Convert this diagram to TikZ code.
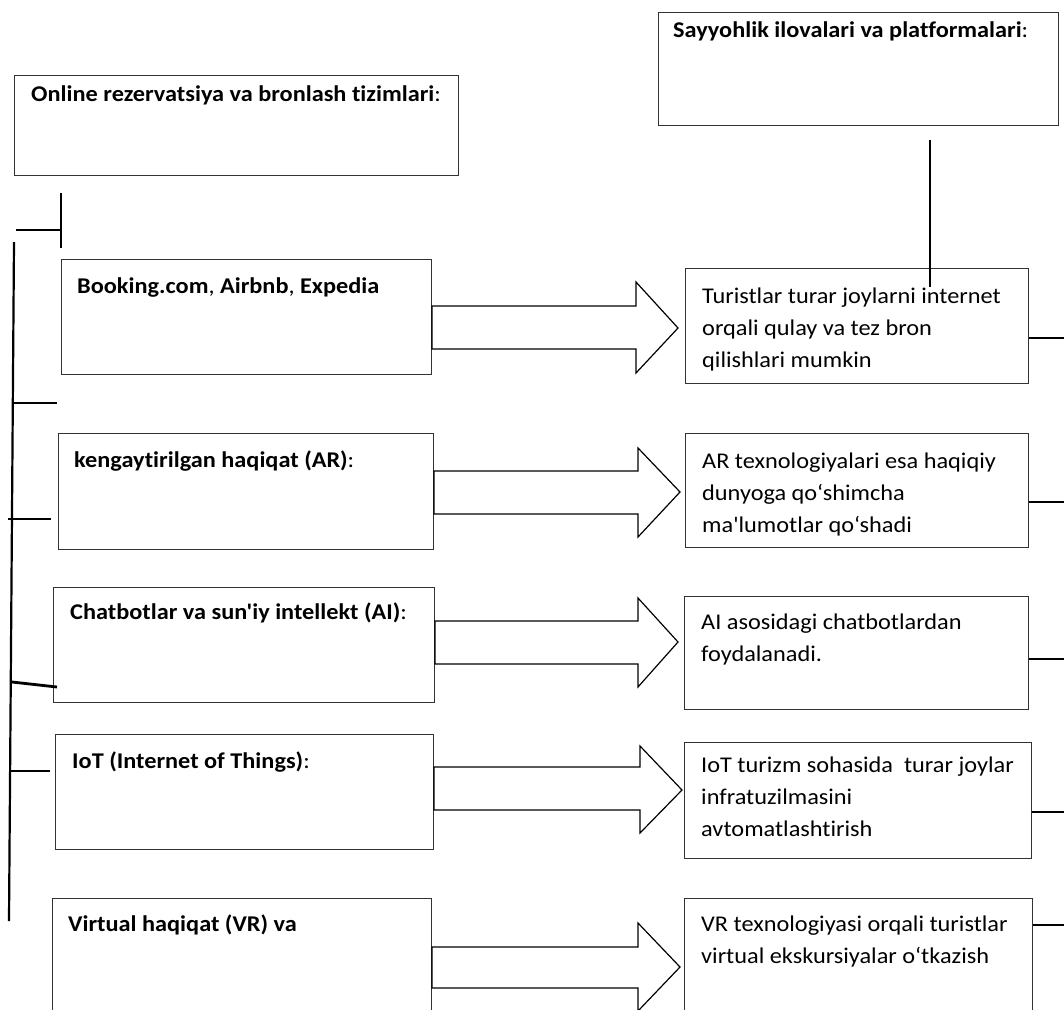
\documentclass[tikz,border=0pt]{standalone}
\usepackage{fontspec}
\setmainfont[Ligatures={NoCommon,TeXOff}, FakeStretch=1.08]{Carlito}
\begin{document}
\begin{tikzpicture}[x=1pt,y=-1pt,
  box/.style={draw=black!80, line width=0.9pt, anchor=north west, inner sep=0pt, fill=none},
  lbl/.style={anchor=base west, inner sep=0pt, font=\fontsize{22.5}{26}\selectfont},
  txt/.style={anchor=base west, inner sep=0pt, align=left, font=\fontsize{22.5}{32}\selectfont},
  blk/.style={draw=black, line width=1.2pt, line join=miter},
  tick/.style={draw=black, line width=2.8pt},
  vline/.style={draw=black, line width=2.2pt},
  ]
\useasboundingbox (0,0) rectangle (1064,1009);
\clip (0,0) rectangle (1064,1009);

% top boxes
\node[box, minimum width=444pt, minimum height=100pt] (online) at (14,75) {};
\node[lbl] (onlinet) at (31,101) {\textbf{Online rezervatsiya va bronlash tizimlari}:};
\node[box, minimum width=400pt, minimum height=113pt] (sayy) at (658,12) {};
\node[lbl] (sayyt) at (673,37) {\textbf{Sayyohlik ilovalari va platformalari}:};

% left boxes
\node[box, minimum width=370pt, minimum height=115pt] (l1) at (61,259) {};
\node[lbl] (l1t) at (77,293) {\textbf{Booking.com}, \textbf{Airbnb}, \textbf{Expedia}};
\node[box, minimum width=375pt, minimum height=116pt] (l2) at (58,433) {};
\node[lbl] (l2t) at (74,467) {\textbf{kengaytirilgan haqiqat (AR)}:};
\node[box, minimum width=381pt, minimum height=115pt] (l3) at (53,587) {};
\node[lbl] (l3t) at (70,619) {\textbf{Chatbotlar va sun'iy intellekt (AI)}:};
\node[box, minimum width=378pt, minimum height=115pt] (l4) at (55,734) {};
\node[lbl] (l4t) at (72,768) {\textbf{IoT (Internet of Things)}:};
\node[box, minimum width=379pt, minimum height=140pt] (l5) at (52,898) {};
\node[lbl] (l5t) at (68,931) {\textbf{Virtual haqiqat (VR) va}};

% right boxes (base anchor = baseline of last line)
\node[box, minimum width=343pt, minimum height=115pt] (r1) at (685,268) {};
\node[txt] (r1t) at (702,367) {Turistlar turar joylarni internet\\orqali qulay va tez bron\\qilishlari mumkin};
\node[box, minimum width=343pt, minimum height=114pt] (r2) at (685,433) {};
\node[txt] (r2t) at (702,532) {AR texnologiyalari esa haqiqiy\\dunyoga qo‘shimcha\\ma'lumotlar qo‘shadi};
\node[box, minimum width=344pt, minimum height=113pt] (r3) at (684,596) {};
\node[txt] (r3t) at (701,661) {AI asosidagi chatbotlardan\\foydalanadi.};
\node[box, minimum width=347pt, minimum height=116pt] (r4) at (684,742) {};
\node[txt] (r4t) at (701,836) {IoT turizm sohasida\ \ turar joylar\\infratuzilmasini\\avtomatlashtirish};
\node[box, minimum width=348pt, minimum height=140pt] (r5) at (684,898) {};
\node[txt] (r5t) at (701,963) {VR texnologiyasi orqali turistlar\\virtual ekskursiyalar o‘tkazish};

% block arrows
\draw[blk] (l1.east |- 0,306) -- (636,306) -- (636,282) -- (678,328) -- (636,373) -- (636,349) -- (l1.east |- 0,349) -- cycle;
\draw[blk] (l2.east |- 0,471) -- (638,471) -- (638,448) -- (680,492) -- (638,537) -- (638,514) -- (l2.east |- 0,514) -- cycle;
\draw[blk] (l3.east |- 0,621) -- (638,621) -- (638,598) -- (678,642) -- (638,687) -- (638,664) -- (l3.east |- 0,664) -- cycle;
\draw[blk] (l4.east |- 0,767) -- (640,767) -- (640,746) -- (682,790) -- (640,833) -- (640,810) -- (l4.east |- 0,810) -- cycle;
\draw[blk] (l5.east |- 0,947) -- (638,947) -- (638,923) -- (680,967) -- (638,1011) -- (638,988) -- (l5.east |- 0,988) -- cycle;

% top-left T and trunk
\coordinate (tA) at (61,193);
\coordinate (tB) at (61,248);
\coordinate (tC) at (16,230);
\draw[tick] (tA) -- (tB);
\draw[tick] (tC) -- (tA |- tC);
\coordinate (trTop) at (14,242);
\coordinate (trBot) at (9,921);
\draw[vline] (trTop) -- (trBot);

% left ticks
\coordinate (k1a) at (14,403); \coordinate (k1b) at (57,403);
\coordinate (k2a) at (8,519);  \coordinate (k2b) at (51,519);
\coordinate (k3a) at (12,682); \coordinate (k3b) at (57,687);
\coordinate (k4a) at (9,771);  \coordinate (k4b) at (50,771);
\draw[tick] (k1a) -- (k1b);
\draw[tick] (k2a) -- (k2b);
\draw[tick] (k3a) -- (k3b);
\draw[tick] (k4a) -- (k4b);

% vertical from top-right box
\coordinate (vA) at (930,140);
\coordinate (vB) at (930,287);
\draw[tick] (vA) -- (vB);

% right ticks
\coordinate (e1) at (1064,338);
\coordinate (e2) at (1064,502);
\coordinate (e3) at (1064,659);
\coordinate (e4) at (1064,812);
\coordinate (e5) at (1064,925);
\draw[tick] (r1.east |- e1) -- (e1);
\draw[tick] (r2.east |- e2) -- (e2);
\draw[tick] (r3.east |- e3) -- (e3);
\draw[tick] (r4.east |- e4) -- (e4);
\draw[tick] (r5.east |- e5) -- (e5);
\end{tikzpicture}
\end{document}
